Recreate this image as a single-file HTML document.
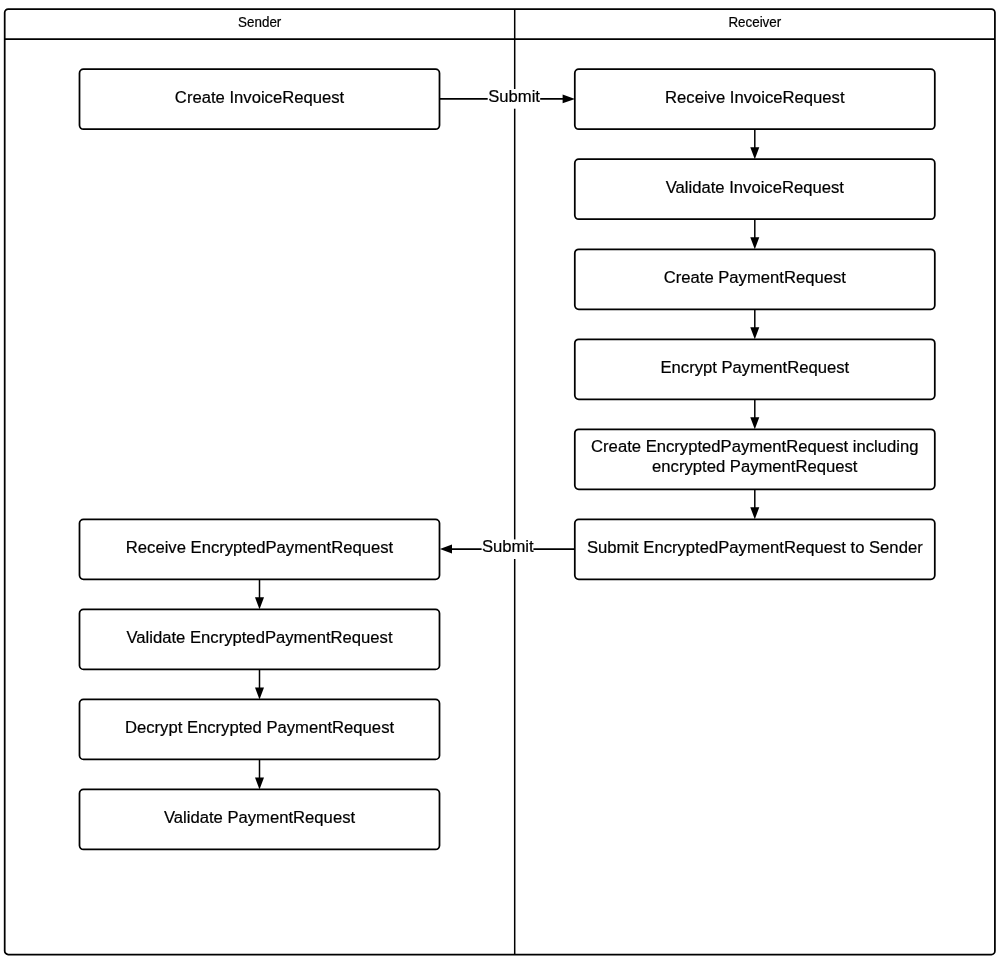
<!DOCTYPE html>
<html><head><meta charset="utf-8"><style>
html,body{margin:0;padding:0;background:#fff;width:1000px;height:959px;overflow:hidden}
svg{display:block;filter:blur(0.35px)}
.b{fill:#fff;stroke:#000;stroke-width:1.75}
.t{font-family:"Liberation Sans",sans-serif;font-size:16.65px;text-anchor:middle;fill:#000;stroke:#000;stroke-width:0.2px}
.h{font-family:"Liberation Sans",sans-serif;font-size:13.4px;text-anchor:middle;fill:#000;stroke:#000;stroke-width:0.2px}
</style></head><body>
<svg width="1000" height="959" viewBox="0 0 1000 959">
<rect x="4.7" y="9" width="990.2" height="945.5" rx="3.5" ry="3.5" fill="#fff" stroke="#000" stroke-width="1.75"/>
<line x1="5" y1="39.1" x2="995" y2="39.1" stroke="#000" stroke-width="1.75"/>
<line x1="514.7" y1="9" x2="514.7" y2="954.8" stroke="#000" stroke-width="1.5"/>
<text transform="translate(259.7 26.8) scale(1 1.08)" class="h">Sender</text>
<text transform="translate(754.8 26.8) scale(1 1.08)" class="h">Receiver</text>
<rect x="574.8" y="69.2" width="360" height="60" rx="4" ry="4" class="b"/>
<text x="754.8" y="103.2" class="t">Receive InvoiceRequest</text>

<rect x="574.8" y="159.23" width="360" height="60" rx="4" ry="4" class="b"/>
<text x="754.8" y="193.23" class="t">Validate InvoiceRequest</text>

<rect x="574.8" y="249.26" width="360" height="60" rx="4" ry="4" class="b"/>
<text x="754.8" y="283.26" class="t">Create PaymentRequest</text>

<rect x="574.8" y="339.29" width="360" height="60" rx="4" ry="4" class="b"/>
<text x="754.8" y="373.29" class="t">Encrypt PaymentRequest</text>

<rect x="574.8" y="429.32" width="360" height="60" rx="4" ry="4" class="b"/>
<text x="754.8" y="452.12" class="t">Create EncryptedPaymentRequest including</text>
<text x="754.8" y="472.12" class="t">encrypted PaymentRequest</text>

<rect x="574.8" y="519.35" width="360" height="60" rx="4" ry="4" class="b"/>
<text x="754.8" y="553.35" class="t">Submit EncryptedPaymentRequest to Sender</text>

<rect x="79.5" y="69.2" width="360" height="60" rx="4" ry="4" class="b"/>
<text x="259.5" y="103.2" class="t">Create InvoiceRequest</text>

<rect x="79.5" y="519.35" width="360" height="60" rx="4" ry="4" class="b"/>
<text x="259.5" y="553.35" class="t">Receive EncryptedPaymentRequest</text>

<rect x="79.5" y="609.38" width="360" height="60" rx="4" ry="4" class="b"/>
<text x="259.5" y="643.38" class="t">Validate EncryptedPaymentRequest</text>

<rect x="79.5" y="699.41" width="360" height="60" rx="4" ry="4" class="b"/>
<text x="259.5" y="733.41" class="t">Decrypt Encrypted PaymentRequest</text>

<rect x="79.5" y="789.44" width="360" height="60" rx="4" ry="4" class="b"/>
<text x="259.5" y="823.44" class="t">Validate PaymentRequest</text>

<line x1="754.8" y1="129.2" x2="754.8" y2="148.2" stroke="#000" stroke-width="1.5"/><path d="M750.3 147.2 L759.3 147.2 L754.8 159.2 Z" fill="#000"/>
<line x1="754.8" y1="219.23" x2="754.8" y2="238.23" stroke="#000" stroke-width="1.5"/><path d="M750.3 237.23 L759.3 237.23 L754.8 249.23 Z" fill="#000"/>
<line x1="754.8" y1="309.26" x2="754.8" y2="328.26" stroke="#000" stroke-width="1.5"/><path d="M750.3 327.26 L759.3 327.26 L754.8 339.26 Z" fill="#000"/>
<line x1="754.8" y1="399.29" x2="754.8" y2="418.29" stroke="#000" stroke-width="1.5"/><path d="M750.3 417.29 L759.3 417.29 L754.8 429.29 Z" fill="#000"/>
<line x1="754.8" y1="489.32" x2="754.8" y2="508.32000000000005" stroke="#000" stroke-width="1.5"/><path d="M750.3 507.32000000000005 L759.3 507.32000000000005 L754.8 519.32 Z" fill="#000"/>
<line x1="259.5" y1="579.35" x2="259.5" y2="598.35" stroke="#000" stroke-width="1.5"/><path d="M255.0 597.35 L264.0 597.35 L259.5 609.35 Z" fill="#000"/>
<line x1="259.5" y1="669.38" x2="259.5" y2="688.38" stroke="#000" stroke-width="1.5"/><path d="M255.0 687.38 L264.0 687.38 L259.5 699.38 Z" fill="#000"/>
<line x1="259.5" y1="759.41" x2="259.5" y2="778.41" stroke="#000" stroke-width="1.5"/><path d="M255.0 777.41 L264.0 777.41 L259.5 789.41 Z" fill="#000"/>
<line x1="439.5" y1="98.9" x2="563" y2="98.9" stroke="#000" stroke-width="1.6"/>
<path d="M562.6 94.6 L562.6 103.2 L575 98.9 Z" fill="#000"/>
<rect x="487.7" y="89" width="52.5" height="19.7" fill="#fff"/>
<text x="514.1" y="102.4" class="t">Submit</text>
<line x1="451" y1="549.1" x2="574.8" y2="549.1" stroke="#000" stroke-width="1.6"/>
<path d="M452 544.6 L452 553.6 L439.9 549.1 Z" fill="#000"/>
<rect x="481.6" y="539.4" width="51.8" height="19.6" fill="#fff"/>
<text x="507.8" y="552.4" class="t">Submit</text>
</svg>
</body></html>
